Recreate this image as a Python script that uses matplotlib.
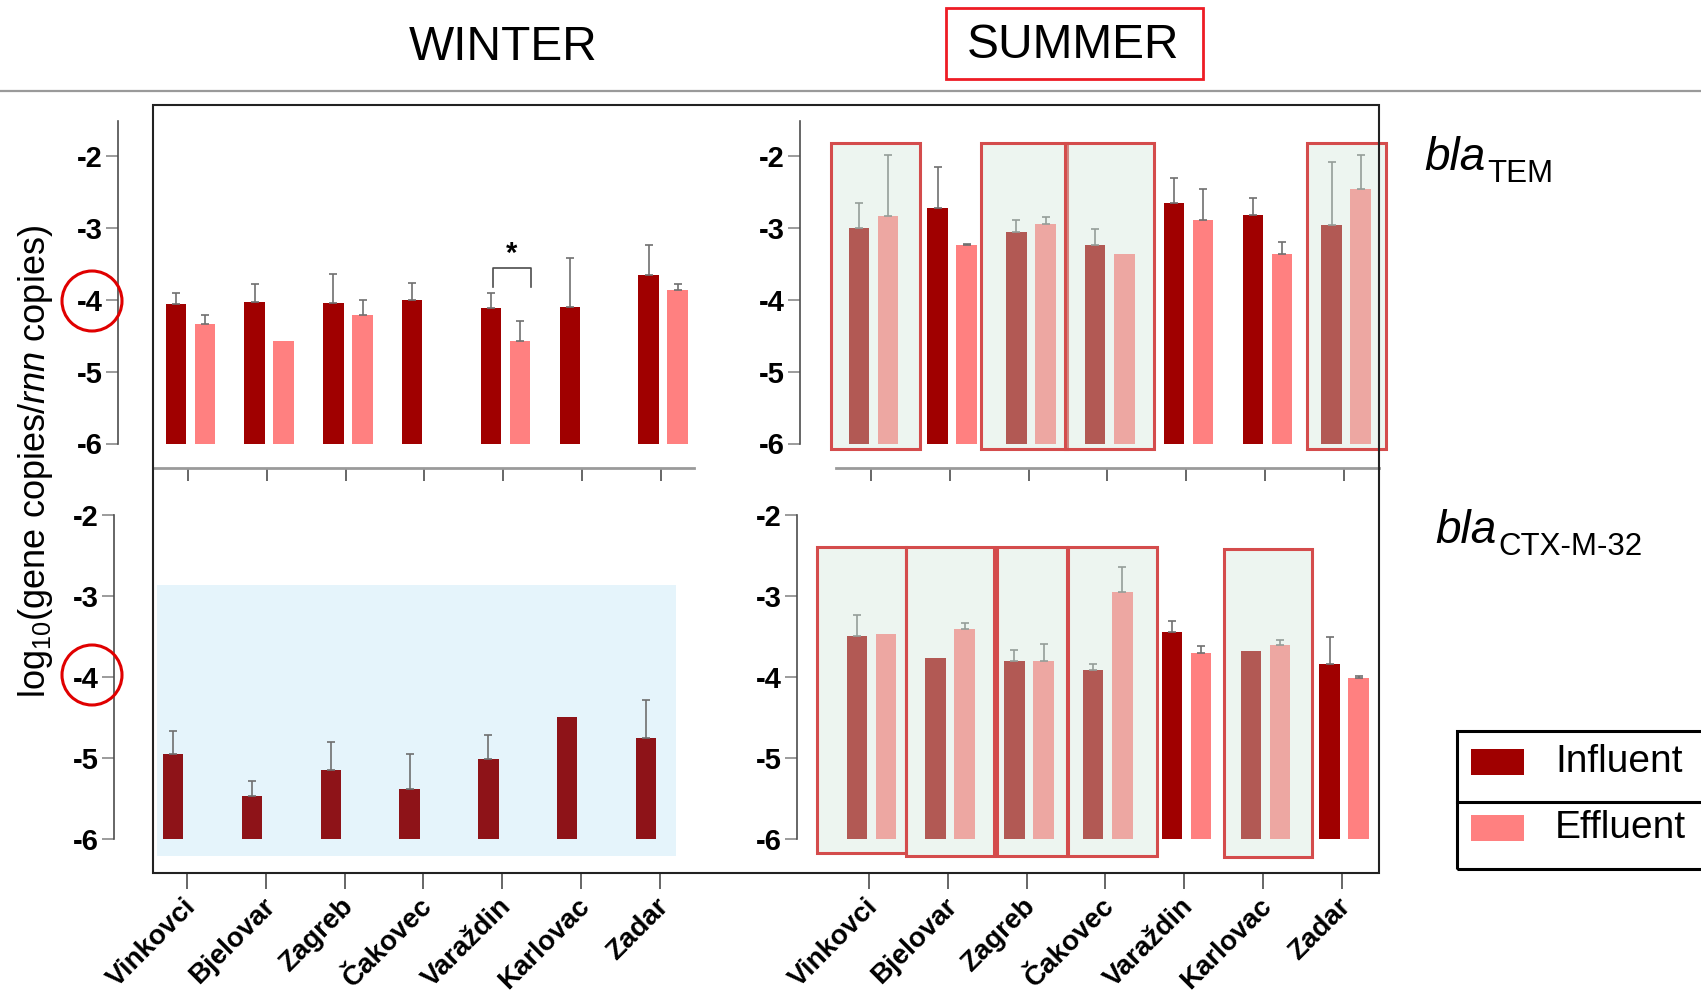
import numpy as np
import matplotlib
matplotlib.use("Agg")
import matplotlib.pyplot as plt
from matplotlib.patches import Rectangle, Ellipse
from matplotlib.lines import Line2D
from matplotlib.text import Annotation
from matplotlib.transforms import ScaledTranslation

plt.rcParams['font.family'] = ['Liberation Sans', 'DejaVu Sans']
plt.rcParams['mathtext.fontset'] = 'custom'
plt.rcParams['mathtext.rm'] = 'Liberation Sans'
plt.rcParams['mathtext.it'] = 'Liberation Sans:italic'
plt.rcParams['axes.unicode_minus'] = False

# ---------------- data ----------------
cities = ['Vinkovci', 'Bjelovar', 'Zagreb', 'Čakovec', 'Varaždin', 'Karlovac', 'Zadar']
season_titles = ['WINTER', 'SUMMER']
legend_labels = ['Influent', 'Effluent']
yticks = [-6, -5, -4, -3, -2]
ytick_labels = ['-6', '-5', '-4', '-3', '-2']
ylabel = r'log$_{10}$(gene copies/$\mathit{rnn}$ copies)'

# blaTEM, winter  (NaN = no bar; sd 0 = no error bar)
tem_win_inf = np.array([-4.06, -4.03, -4.04, -4.00, -4.11, -4.10, -3.66])
tem_win_inf_sd = np.array([0.15, 0.25, 0.40, 0.23, 0.21, 0.68, 0.42])
tem_win_eff = np.array([-4.34, -4.58, -4.21, np.nan, -4.57, np.nan, -3.87])
tem_win_eff_sd = np.array([0.13, 0.0, 0.21, 0.0, 0.28, 0.0, 0.09])

# blaTEM, summer
tem_sum_inf = np.array([-3.00, -2.72, -3.06, -3.24, -2.65, -2.82, -2.96])
tem_sum_inf_sd = np.array([0.35, 0.57, 0.17, 0.22, 0.34, 0.24, 0.87])
tem_sum_eff = np.array([-2.84, -3.24, -2.94, -3.37, -2.89, -3.36, -2.46])
tem_sum_eff_sd = np.array([0.86, 0.02, 0.09, 0.0, 0.43, 0.16, 0.47])

# blaCTX-M-32, winter (influent only)
ctx_win_inf = np.array([-4.95, -5.47, -5.15, -5.38, -5.02, -4.49, -4.75])
ctx_win_inf_sd = np.array([0.28, 0.18, 0.35, 0.43, 0.30, 0.0, 0.46])

# blaCTX-M-32, summer
ctx_sum_inf = np.array([-3.49, -3.77, -3.80, -3.92, -3.44, -3.68, -3.84])
ctx_sum_inf_sd = np.array([0.25, 0.0, 0.13, 0.08, 0.13, 0.0, 0.33])
ctx_sum_eff = np.array([-3.47, -3.41, -3.81, -2.95, -3.71, -3.61, -4.02])
ctx_sum_eff_sd = np.array([0.0, 0.07, 0.22, 0.31, 0.09, 0.06, 0.03])

# highlighted groups (box extents in group units)
tem_sum_boxes = [(-0.508, 0.622), (1.396, 2.487), (2.462, 3.591), (5.533, 6.536)]
tem_sum_box_y = (-6.074, -1.815)
ctx_sum_boxes = [(-0.654, 0.464, -6.174, -2.40), (0.464, 1.591, -6.213, -2.40),
                 (1.624, 2.513, -6.213, -2.40), (2.525, 3.655, -6.213, -2.40),
                 (4.50, 5.619, -6.227, -2.42)]

# ---------------- style ----------------
INF = '#A00000'
EFF = '#FF8080'
INF_WIN_CTX = '#8E1318'
ERR = '#6f6f6f'
AXC = '#4d4d4d'
BOX_FILL = (209/255, 231/255, 218/255, 0.39)
BOX_EDGE = '#D44C4C'
BASE = -6
W, H = 1701, 994
BW = 0.26
OFF_INF, OFF_EFF = -0.155, 0.215

fig = plt.figure(figsize=(W / 100, H / 100), dpi=100)


def fx(px):
    return px / W


def fy(py):
    return 1 - py / H


def panel(pl, pr, pt, pb, t0, step, y2, y6):
    ax = fig.add_axes([fx(pl), fy(pb), (pr - pl) / W, (pb - pt) / H])
    ax.set_xlim((pl - t0) / step, (pr - t0) / step)
    ppu = (y6 - y2) / 4.0
    ax.set_ylim(-2 - (pb - y2) / ppu, -2 - (pt - y2) / ppu)
    ax.patch.set_visible(False)
    for s in ['top', 'right']:
        ax.spines[s].set_visible(False)
    ax.spines['left'].set_color(AXC)
    ax.spines['left'].set_linewidth(1.2)
    ax.set_yticks(yticks)
    ax.set_yticklabels(ytick_labels, fontsize=21, fontweight='bold')
    ax.tick_params(axis='y', length=9, width=1.2, color='#8a8a8a', pad=2)
    ax.set_xticks(range(len(cities)))
    return ax


def bars(ax, vals, sd, off, color):
    x = np.arange(len(vals)) + off
    m = ~np.isnan(vals)
    ax.bar(x[m], vals[m] - BASE, bottom=BASE, width=BW, color=color, zorder=2, linewidth=0)
    e = m & (sd > 0)
    ax.errorbar(x[e], vals[e], yerr=[np.zeros(e.sum()), sd[e]], fmt='none', ecolor=ERR,
                elinewidth=1.2, capsize=3, capthick=1.2, zorder=2.5)


ax_tw = panel(118, 700, 121, 468, 188, 78.8, 156, 443.5)
ax_ts = panel(800, 1379, 121, 468, 871, 78.8, 156, 443.5)
ax_bw = panel(114, 700, 505, 874, 187, 78.8, 515, 838.7)
ax_bs = panel(797, 1379, 505, 874, 869, 78.8, 515, 838.7)

for ax, (l, r), t0 in [(ax_tw, (153, 694), 188), (ax_ts, (836, 1379), 871)]:
    ax.spines['left'].set_bounds(-6, ax.get_ylim()[1])
    ax.spines['bottom'].set_color('#9a9a9a')
    ax.spines['bottom'].set_linewidth(2)
    ax.spines['bottom'].set_bounds((l - t0) / 78.8, (r - t0) / 78.8)
    ax.tick_params(axis='x', length=9.5, width=1.2, color=AXC, labelbottom=False)

for ax in [ax_bw, ax_bs]:
    ax.spines['left'].set_bounds(-6, -2)
    ax.spines['bottom'].set_visible(False)
    ax.tick_params(axis='x', length=10.5, width=1.2, color=AXC, pad=10)
    ax.set_xticklabels(cities, rotation=45, ha='right', va='center',
                       rotation_mode='anchor', fontsize=20, fontweight='bold')
    for lbl in ax.get_xticklabels():
        lbl.set_transform(lbl.get_transform() + ScaledTranslation(0.05, 0, fig.dpi_scale_trans))

# top-left: blaTEM winter
bars(ax_tw, tem_win_inf, tem_win_inf_sd, OFF_INF, INF)
bars(ax_tw, tem_win_eff, tem_win_eff_sd, OFF_EFF, EFF)
ax_tw.plot([3.873, 3.873, 4.355, 4.355], [-3.82, -3.554, -3.554, -3.82], color=AXC, lw=1.2)
ax_tw.text(4.10, -3.36, '*', ha='center', va='center', fontsize=21, fontweight='bold')

# top-right: blaTEM summer
bars(ax_ts, tem_sum_inf, tem_sum_inf_sd, OFF_INF, INF)
bars(ax_ts, tem_sum_eff, tem_sum_eff_sd, OFF_EFF, EFF)
for (x0, x1) in tem_sum_boxes:
    ax_ts.add_patch(Rectangle((x0, tem_sum_box_y[0]), x1 - x0, tem_sum_box_y[1] - tem_sum_box_y[0],
                              facecolor=BOX_FILL, edgecolor=BOX_EDGE, lw=2.2, zorder=3, clip_on=False))

# bottom-left: blaCTX-M-32 winter
ax_bw.add_patch(Rectangle((-0.381, -6.215), 6.587, 3.35, facecolor='#E5F4FB', edgecolor='none', zorder=0))
bars(ax_bw, ctx_win_inf, ctx_win_inf_sd, -0.175, INF_WIN_CTX)

# bottom-right: blaCTX-M-32 summer
bars(ax_bs, ctx_sum_inf, ctx_sum_inf_sd, OFF_INF, INF)
bars(ax_bs, ctx_sum_eff, ctx_sum_eff_sd, OFF_EFF, EFF)
for (x0, x1, y0, y1) in ctx_sum_boxes:
    ax_bs.add_patch(Rectangle((x0, y0), x1 - x0, y1 - y0, facecolor=BOX_FILL,
                              edgecolor=BOX_EDGE, lw=2.2, zorder=3, clip_on=False))

# ---------------- figure-level decorations ----------------
fig.add_artist(Line2D([0, 1], [fy(91), fy(91)], transform=fig.transFigure, color='#9a9a9a', lw=1.6))
fig.add_artist(Rectangle((fx(153), fy(873)), (1379 - 153) / W, (873 - 105) / H, transform=fig.transFigure,
                         fill=False, edgecolor='#222222', lw=1.5))

fig.text(fx(503), fy(47), season_titles[0], ha='center', va='center', fontsize=34.5)
fig.text(fx(1073), fy(45), season_titles[1], ha='center', va='center', fontsize=34.5)
fig.add_artist(Rectangle((fx(946), fy(79)), (1203 - 946) / W, (79 - 8) / H, transform=fig.transFigure,
                         fill=False, edgecolor='#EE1C25', lw=2))

fig.text(fx(36), fy(461), ylabel, rotation=90, ha='center', va='center', fontsize=26)

for cy in (301, 675):
    fig.add_artist(Ellipse((fx(92), fy(cy)), 60 / W, 60 / H, transform=fig.transFigure,
                           fill=False, edgecolor='#E00000', lw=2.2))

# gene labels
for (gx, gy, sub) in [(1424, 170, 'TEM'), (1435, 543, 'CTX-M-32')]:
    t = fig.text(fx(gx), fy(gy), 'bla', style='italic', fontsize=33, ha='left', va='baseline')
    fig.add_artist(Annotation(sub, xy=(1, 0), xycoords=t, xytext=(1.5, -1.5), textcoords='offset points',
                              fontsize=22.5, ha='left', va='baseline'))

# legend
fig.add_artist(Rectangle((fx(1457), fy(869)), (1712 - 1457) / W, (869 - 731) / H, transform=fig.transFigure,
                         fill=False, edgecolor='black', lw=2.2, clip_on=False))
fig.add_artist(Line2D([fx(1457), 1.01], [fy(802), fy(802)], transform=fig.transFigure, color='black', lw=2.2))
for (ly, col, lab) in [(762, INF, legend_labels[0]), (828, EFF, legend_labels[1])]:
    fig.add_artist(Rectangle((fx(1471), fy(ly + 13)), 53 / W, 26 / H, transform=fig.transFigure,
                             facecolor=col, edgecolor='none'))
    fig.text(fx(1555), fy(ly), lab, ha='left', va='center', fontsize=28)

fig.savefig('out.png', dpi=100)
